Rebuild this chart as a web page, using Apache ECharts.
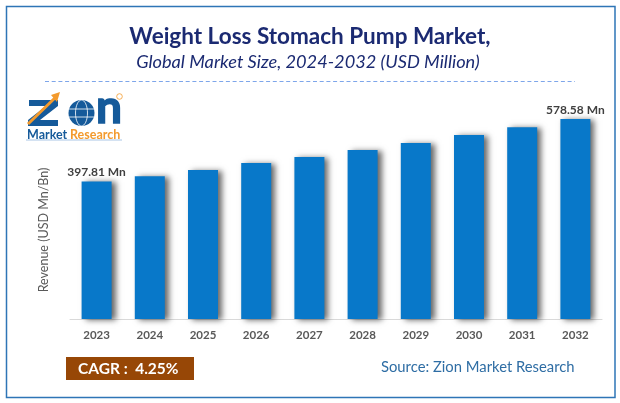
<!DOCTYPE html>
<html>
<head>
<meta charset="utf-8">
<style>
  html, body { margin: 0; padding: 0; background: #fff; }
  #main { width: 620px; height: 403px; }
</style>
<script src="https://cdn.jsdelivr.net/npm/echarts@6/dist/echarts.min.js"></script>
</head>
<body>
<div id="main"></div>
<script>
var years = ['2023', '2024', '2025', '2026', '2027', '2028', '2029', '2030', '2031', '2032'];
var revenue = [397.81, 412.8, 431, 451, 469, 489, 509, 532, 555, 578.58];
var labelled = ['2023', '2032'];

var blue = '#0878c9';
var navy = '#1b2a72';
var logoBlue = '#155a9a';
var logoOrange = '#f39a2d';
var font = 'Lato';

var chart = echarts.init(document.getElementById('main'));

var barData = revenue.map(function (v, i) {
    return {
        value: v,
        label: {
            show: labelled.indexOf(years[i]) >= 0,
            formatter: v.toFixed(2) + ' Mn'
        }
    };
});

var option = {
    animation: false,
    backgroundColor: '#fff',
    textStyle: { fontFamily: font },
    title: [
        {
            text: 'Weight Loss Stomach Pump Market,',
            left: 305, top: 20, textAlign: 'center',
            textStyle: { fontFamily: font, fontSize: 22.5, fontWeight: 'bold', color: navy }
        },
        {
            text: 'Global Market Size, 2024-2032 (USD Million)',
            left: 303, top: 48.5, textAlign: 'center',
            textStyle: { fontFamily: font, fontSize: 18.2, fontStyle: 'italic', fontWeight: 'normal', color: navy }
        }
    ],
    grid: { left: 70, width: 532, top: 111.6, height: 207.4 },
    xAxis: {
        type: 'category',
        data: years,
        axisTick: { show: false },
        axisLine: { lineStyle: { color: '#d9d9d9', width: 1 } },
        axisLabel: { color: '#595959', fontWeight: 'bold', fontSize: 11.5, margin: 10, fontFamily: font }
    },
    yAxis: { type: 'value', min: 0, max: 600, show: false },
    series: [{
        type: 'bar',
        data: barData,
        barWidth: 30,
        itemStyle: {
            color: blue,
            shadowColor: 'rgba(0,0,0,0.6)',
            shadowBlur: 6,
            shadowOffsetX: 4,
            shadowOffsetY: 1
        },
        label: {
            position: 'top',
            distance: 3,
            color: '#404040',
            fontWeight: 'bold',
            fontSize: 12,
            fontFamily: font
        }
    }],
    graphic: [
        // frame
        { type: 'rect', shape: { x: 6.5, y: 6.5, width: 608.5, height: 391 }, style: { fill: 'none', stroke: '#2e75b6', lineWidth: 1.5 }, z: 0 },
        // dashed rule under the titles
        { type: 'line', shape: { x1: 45, y1: 81.5, x2: 575, y2: 81.5 }, style: { stroke: '#7ea6ea', lineWidth: 1, lineDash: [4, 2.7] } },
        // y axis title
        {
            type: 'text', x: 44, y: 230, rotation: Math.PI / 2,
            style: { text: 'Revenue (USD Mn/Bn)', fill: '#595959', font: '12.5px ' + font, textAlign: 'center', textVerticalAlign: 'middle' }
        },
        // CAGR box
        { type: 'rect', shape: { x: 66, y: 357, width: 128, height: 23 }, style: { fill: '#974706' } },
        {
            type: 'text', x: 78, y: 369,
            style: { text: 'CAGR :  4.25%', fill: '#fff', font: 'bold 15.5px ' + font, textVerticalAlign: 'middle' }
        },
        // source
        {
            type: 'text', x: 381, y: 367,
            style: { text: 'Source: Zion Market Research', fill: '#2e6da4', font: '14.8px ' + font, textVerticalAlign: 'middle' }
        },
        // logo
        { type: 'polygon', shape: { points: [[29, 100], [58, 100], [58, 106], [40, 120], [58, 120], [58, 126], [28, 126], [28, 120], [46, 106], [29, 106]] }, style: { fill: logoBlue } },
        { type: 'line', shape: { x1: 28, y1: 124, x2: 57, y2: 96 }, style: { stroke: logoOrange, lineWidth: 3 } },
        { type: 'polygon', shape: { points: [[60, 92], [51, 95], [57, 102]] }, style: { fill: logoOrange } },
        { type: 'circle', shape: { cx: 81.5, cy: 113, r: 13 }, style: { fill: logoBlue } },
        { type: 'ellipse', shape: { cx: 81.5, cy: 113, rx: 6, ry: 13 }, style: { fill: 'none', stroke: '#fff', lineWidth: 0.8 } },
        { type: 'line', shape: { x1: 69, y1: 109, x2: 94, y2: 109 }, style: { stroke: '#fff', lineWidth: 0.8 } },
        { type: 'line', shape: { x1: 69, y1: 117, x2: 94, y2: 117 }, style: { stroke: '#fff', lineWidth: 0.8 } },
        { type: 'text', x: 96, y: 108, style: { text: 'n', fill: logoBlue, stroke: logoBlue, lineWidth: 1.5, font: 'bold 46px ' + font, textVerticalAlign: 'middle' } },
        { type: 'circle', shape: { cx: 119.5, cy: 96.5, r: 2.8 }, style: { fill: 'none', stroke: logoOrange, lineWidth: 0.8 } },
        { type: 'text', x: 27, y: 134.5, style: { text: 'Market', fill: logoBlue, font: 'bold 12.5px ' + font, textVerticalAlign: 'middle' } },
        { type: 'text', x: 70, y: 134.5, style: { text: 'Research', fill: logoOrange, font: 'bold 12.5px ' + font, textVerticalAlign: 'middle' } },
        { type: 'line', shape: { x1: 26, y1: 140, x2: 122, y2: 140 }, style: { stroke: '#a9c6e6', lineWidth: 1 } }
    ]
};

chart.setOption(option);
window.addEventListener('resize', function () {
    chart.resize();
});
</script>
</body>
</html>
